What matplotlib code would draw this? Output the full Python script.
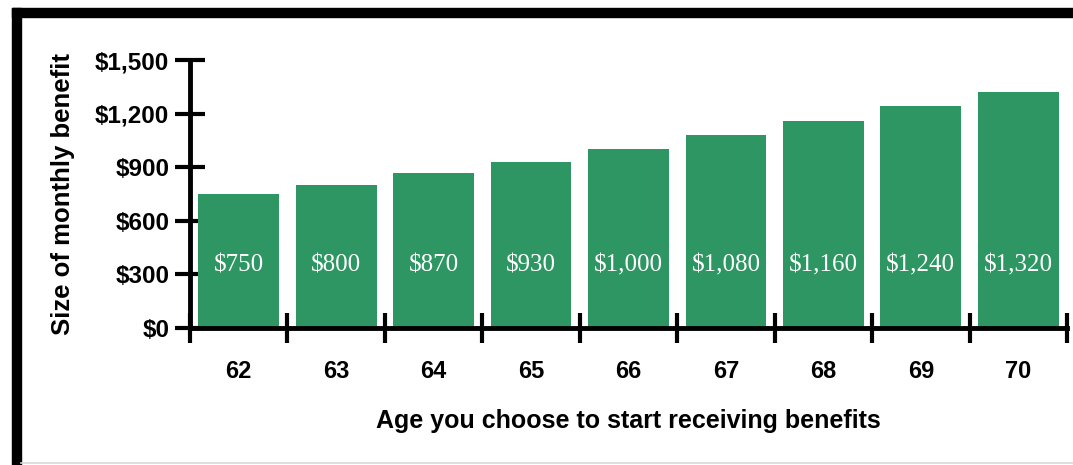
import matplotlib.pyplot as plt
from matplotlib.patches import Rectangle
from matplotlib.lines import Line2D

# monthly benefit by claiming age
ages = ["62", "63", "64", "65", "66", "67", "68", "69", "70"]
benefits = [750, 800, 870, 930, 1000, 1080, 1160, 1240, 1320]
yticks = [0, 300, 600, 900, 1200, 1500]

green = "#2d9663"
sans = "Liberation Sans"

fig = plt.figure(figsize=(10.73, 4.65), dpi=100)
ax = fig.add_axes([190 / 1073, (465 - 328) / 465, (1067 - 190) / 1073, (328 - 60) / 465])

x = range(len(ages))
ax.bar(x, benefits, width=0.83, color=green, zorder=2)
for i, v in enumerate(benefits):
    ax.text(i, 350, f"${v:,}", ha="center", va="center", color="white",
            fontsize=18, family="Liberation Serif", zorder=3)

ax.set_xlim(-0.5, len(ages) - 0.5)
ax.set_ylim(0, 1500)

# ticks sit on category boundaries, labels go in the middle
ax.set_xticks([i - 0.5 for i in range(len(ages) + 1)])
ax.set_xticklabels([])
ax.set_xticks(list(x), minor=True)
ax.set_xticklabels(ages, minor=True, fontsize=17, fontweight="bold", family=sans)
ax.tick_params(axis="x", which="major", direction="inout", length=22, width=3)
ax.tick_params(axis="x", which="minor", length=0, pad=23)

ax.set_yticks(yticks)
ax.set_yticklabels([f"${t:,}" for t in yticks], fontsize=17.5, fontweight="bold", family=sans)
ax.tick_params(axis="y", direction="inout", length=22, width=3, pad=4)

for s in ["top", "right"]:
    ax.spines[s].set_visible(False)
for s in ["left", "bottom"]:
    ax.spines[s].set_linewidth(3.5)

ax.set_xlabel("Age you choose to start receiving benefits", fontsize=18,
              fontweight="bold", family=sans, labelpad=19)
ax.set_ylabel("Size of monthly benefit", fontsize=18.5, fontweight="bold", family=sans, labelpad=14)

# frame around the figure
fig.add_artist(Rectangle((12 / 1073, 0), 9 / 1073, (465 - 8) / 465,
                         transform=fig.transFigure, color="black"))
fig.add_artist(Rectangle((12 / 1073, (465 - 17) / 465), 1 - 12 / 1073, 9 / 465,
                         transform=fig.transFigure, color="black"))
fig.add_artist(Line2D([21 / 1073, 1], [2.5 / 465, 2.5 / 465], transform=fig.transFigure,
                      color="#d8d8d8", lw=1.2))

fig.savefig("out.png", dpi=100)
